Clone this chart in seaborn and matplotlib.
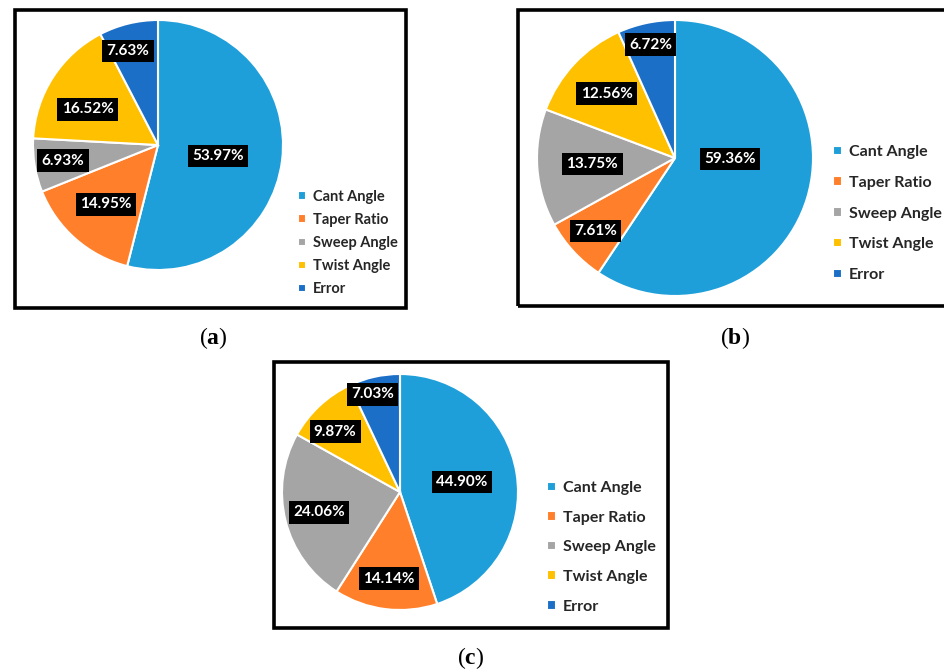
import matplotlib
matplotlib.use("Agg")
import matplotlib.pyplot as plt
from matplotlib.patches import Rectangle
import numpy as np
import seaborn as sns

sns.set_theme(style="white")
plt.rcParams["font.family"] = ["Lato", "DejaVu Sans"]
plt.rcParams["mathtext.fontset"] = "custom"
plt.rcParams["mathtext.rm"] = "Liberation Serif"
plt.rcParams["mathtext.bf"] = "Liberation Serif:bold"

# ---- data -------------------------------------------------------------
categories = ["Cant Angle", "Taper Ratio", "Sweep Angle", "Twist Angle", "Error"]
shares_a = [53.97, 14.95, 6.93, 16.52, 7.63]
shares_b = [59.36, 7.61, 13.75, 12.56, 6.72]
shares_c = [44.90, 14.14, 24.06, 9.87, 7.03]
panel_tags = ["a", "b", "c"]

palette = sns.color_palette(["#1F9FD9", "#FF7F2A", "#A5A5A5", "#FFC000", "#1C6FC6"])

# ---- layout (pixels on a 945 x 672 canvas) ----------------------------
W, H = 945, 672
panels = [
    dict(shares=shares_a, center=(158, 145), radius=125,
         frame=(15, 10, 406, 308), legend=(298, 190), spacing=0.62, fs=10.5,
         label_r=[0.49, 0.63, 0.77, 0.63, 0.79], label_shift=[-3, 0, 0, 6, 4],
         caption=(213, 338)),
    dict(shares=shares_b, center=(675, 158), radius=138,
         frame=(518, 10, 960, 306), legend=(833, 145), spacing=1.05, fs=11.5,
         label_r=[0.40, 0.78, 0.60, 0.68, 0.84], label_shift=[16, 0, 0, 0, 0],
         caption=(735, 338)),
    dict(shares=shares_c, center=(400, 492), radius=118,
         frame=(274, 362, 668, 628), legend=(547, 481), spacing=0.98, fs=11.5,
         label_r=[0.53, 0.74, 0.71, 0.75, 0.86], label_shift=[0, 0, 0, 4, 3],
         caption=(471, 658)),
]

fig = plt.figure(figsize=(W / 100, H / 100), dpi=100)
fig.patch.set_facecolor("white")


def fx(x):
    return x / W


def fy(y):
    return 1 - y / H


for p, tag in zip(panels, panel_tags):
    # black frame around the panel
    x0, y0, x1, y1 = p["frame"]
    fig.patches.append(Rectangle((fx(x0), fy(y1)), fx(x1 - x0), (y1 - y0) / H,
                                 transform=fig.transFigure, fill=False,
                                 ec="black", lw=2.6, zorder=0))

    cx, cy = p["center"]
    r = p["radius"]
    ax = fig.add_axes([fx(cx - r), fy(cy + r), 2 * r / W, 2 * r / H])
    wedges, _ = ax.pie(p["shares"], colors=palette, startangle=90,
                       counterclock=False,
                       wedgeprops=dict(edgecolor="white", linewidth=1.5))
    ax.set_xlim(-1, 1)
    ax.set_ylim(-1, 1)
    ax.set_aspect("equal")
    ax.axis("off")

    for w, val, lr, sh in zip(wedges, p["shares"], p["label_r"], p["label_shift"]):
        mid = np.deg2rad((w.theta1 + w.theta2) / 2 + sh)
        ax.text(lr * np.cos(mid), lr * np.sin(mid), f"{val:.2f}%",
                ha="center", va="center", color="white", fontsize=11,
                fontweight="bold",
                bbox=dict(boxstyle="square,pad=0.28", fc="black", ec="none"))

    lx, ly = p["legend"]
    fig.legend(wedges, categories, loc="upper left",
               bbox_to_anchor=(fx(lx), fy(ly)), frameon=False,
               handlelength=0.55, handleheight=0.55, handletextpad=0.45,
               labelspacing=p["spacing"], borderpad=0, borderaxespad=0,
               prop=dict(size=p["fs"], weight="bold"), labelcolor="#262626")

    capx, capy = p["caption"]
    fig.text(fx(capx), fy(capy), "(" + r"$\mathbf{" + tag + "}$" + ")",
             ha="center", va="center", fontsize=17, family="Liberation Serif",
             color="black")

fig.savefig("out.png", dpi=100, facecolor="white")
